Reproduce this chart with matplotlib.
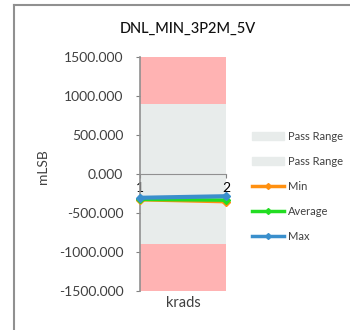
import matplotlib
matplotlib.use('Agg')
import matplotlib.pyplot as plt
from matplotlib.lines import Line2D
from matplotlib.patches import Patch

plt.rcParams['font.family'] = ['Lato', 'DejaVu Sans']

# dados
krads = [1, 2]
min_vals = [-330, -355]
avg_vals = [-325, -335]
max_vals = [-305, -285]

# faixas de fundo (inferior, superior, cor)
faixa_inf = [-1500, -900, 0, 900]
faixa_sup = [-900, 0, 900, 1500]
faixa_cor = ['#FFB3B3', '#E8ECEB', '#E8ECEB', '#FFB3B3']

yticks = [1500, 1000, 500, 0, -500, -1000, -1500]

fig = plt.figure(figsize=(3.5, 3.3), dpi=100)

# moldura externa
fig.add_artist(Line2D([14/350, 14/350], [0, 325/330], color='#909090', lw=1.5))
fig.add_artist(Line2D([14/350, 1], [325/330, 325/330], color='#909090', lw=1.5))

ax = fig.add_axes([140/350, 39/330, 86/350, 234/330])

for b, t, c in zip(faixa_inf, faixa_sup, faixa_cor):
    ax.fill_between([krads[0], krads[-1]], b, t, color=c, lw=0, zorder=0)

ax.plot(krads, min_vals, color='#FF9010', lw=2.5, marker='D', ms=4, zorder=3, clip_on=False)
ax.plot(krads, avg_vals, color='#22DD22', lw=2.5, marker='D', ms=4, zorder=4, clip_on=False)
ax.plot(krads, max_vals, color='#3A8FCC', lw=3, marker='D', ms=4, zorder=5, clip_on=False)

ax.set_xlim(krads[0], krads[-1])
ax.set_ylim(-1500, 1500)
ax.set_yticks(yticks)
ax.set_yticklabels([f'{v:.3f}' for v in yticks], fontsize=10, color='#404040')
ax.set_xticks(krads)
ax.set_xticklabels([str(k) for k in krads], fontsize=7.5, color='#202020')
ax.tick_params(axis='x', direction='out', length=3, pad=3, color='#808080')
ax.tick_params(axis='y', length=3, pad=9, color='#808080')

for s in ['top', 'right']:
    ax.spines[s].set_visible(False)
ax.spines['bottom'].set_position(('data', 0))
ax.spines['bottom'].set_color('#909090')
ax.spines['left'].set_color('#909090')
ax.spines['left'].set_linewidth(1.2)

fig.text(43/350, 1 - 167/330, 'mLSB', fontsize=10, color='#404040', rotation=90,
         ha='center', va='center')
fig.text(183/350, 1 - 303/330, 'krads', fontsize=10.5, color='#404040', ha='center', va='center')
fig.text(188/350, 1 - 29/330, 'DNL_MIN_3P2M_5V', fontsize=10.5, color='#111111',
         ha='center', va='center', fontweight='medium')

handles = [
    Patch(color='#E8ECEB', label='Pass Range'),
    Patch(color='#E8ECEB', label='Pass Range'),
    Line2D([], [], color='#FF9010', lw=2.5, marker='D', ms=3, label='Min'),
    Line2D([], [], color='#22DD22', lw=2.5, marker='D', ms=3, label='Average'),
    Line2D([], [], color='#3A8FCC', lw=2.5, marker='D', ms=3, label='Max'),
]
fig.legend(handles=handles, loc='upper left', bbox_to_anchor=(252/350, 1 - 131/330),
           frameon=False, fontsize=8, handlelength=2.9, handletextpad=0.3,
           labelspacing=1.25, borderaxespad=0, borderpad=0, labelcolor='#404040')

fig.savefig('out.png', dpi=100)
